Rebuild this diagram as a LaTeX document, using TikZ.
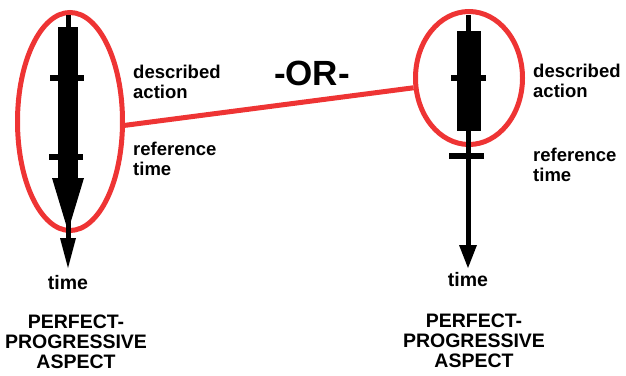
\documentclass[tikz,border=0pt]{standalone}
\usepackage{fontspec}
\setmainfont{Liberation Sans}
\usetikzlibrary{shapes.geometric, positioning}
\definecolor{cRing}{RGB}{238,52,52}
\tikzset{
	ring/.style    ={ellipse, draw=cRing, line width=5pt, inner sep=0pt},
	link/.style    ={draw=cRing, line width=5pt},
	timeline/.style={line width=5pt},
	tickmark/.style={line width=6pt},
	lbl/.style     ={font=\bfseries\fontsize{18.5}{20}\selectfont, align=left, anchor=west, inner sep=0pt},
	caption/.style ={font=\bfseries\fontsize{19.5}{20}\selectfont, align=center, inner sep=0pt},
}

\begin{document}
\begin{tikzpicture}[x=1pt, y=-1pt]
	\useasboundingbox (0,0) rectangle (626,375);
	% rings and the link between them
	\node[ring, minimum width=105pt, minimum height=218pt] (lring) at (70,121.5) {};
	\node[ring, minimum width=107pt, minimum height=133pt] (rring) at (469,78) {};
	\draw[link] (lring.-4) -- (rring.190);
	\node[font=\bfseries\fontsize{35}{35}\selectfont, inner sep=0pt] (or) at (312,73) {-OR-};
	% left time line
	\draw[timeline] (68,15) -- (68,240);
	\fill (58,27) rectangle (78,178);
	\fill (52,178) -- (84,178) -- (68,231) -- cycle;
	\fill (60,238) -- (76,238) -- (68,268) -- cycle;
	\draw[tickmark] (50,78) -- (84,78);
	\draw[tickmark] (49,157) -- (83,157);
	% right time line
	\draw[timeline] (468,15) -- (468,247);
	\fill (457,31) rectangle (481,131);
	\fill (459,245) -- (477,245) -- (468,268) -- cycle;
	\draw[tickmark] (451,78) -- (486,78);
	\draw[tickmark] (449,156) -- (484,156);
	% labels
	\node[lbl] (lact) at (133,82) {described\\action};
	\node[lbl] (lref) at (133,159) {reference\\time};
	\node[lbl] (ract) at (533,81) {described\\action};
	\node[lbl] (rref) at (533,165) {reference\\time};
	\node[caption] (ltime) at (68,283) {time};
	\node[caption] (rtime) at (468,280) {time};
	\node[caption] (lcap) at (76,342) {PERFECT-\\PROGRESSIVE\\ASPECT};
	\node[caption] (rcap) at (474,341) {PERFECT-\\PROGRESSIVE\\ASPECT};
\end{tikzpicture}
\end{document}
